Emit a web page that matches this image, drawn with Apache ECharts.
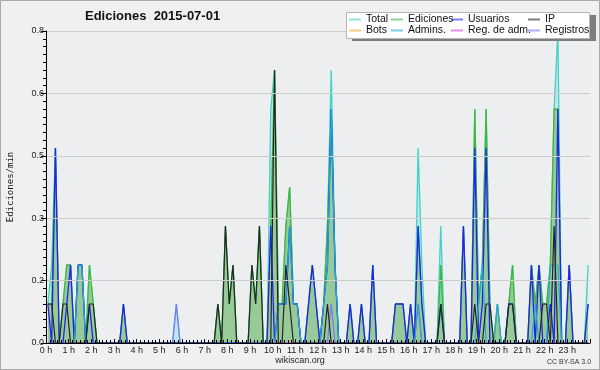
<!DOCTYPE html>
<html>
<head>
<meta charset="utf-8">
<script src="https://cdn.jsdelivr.net/npm/echarts@6/dist/echarts.min.js"></script>
<style>
html, body { margin: 0; padding: 0; background: #f0f0f0; }
#chart { width: 600px; height: 370px; }
</style>
</head>
<body>
<div id="chart"></div>
<script>
// Ediciones por minuto, intervalos de 10 min (2 horas por fila)
let total = [
	0.1,0.2,0.5,0,0.1,0.2,0.2,0,0.2,0.2,0,0.2,
	0.1,0,0,0,0,0,0,0,0.1,0,0,0,
	0,0,0,0,0,0,0,0,0,0,0.1,0,
	0,0,0,0,0,0,0,0,0,0.1,0,0.3,
	0.1,0.2,0,0,0,0,0.2,0.1,0.3,0,0,0.6,
	0.7,0.1,0.1,0.3,0.4,0.1,0.1,0,0,0.1,0.2,0.1,
	0,0.1,0.3,0.7,0.2,0,0,0,0.1,0,0,0.1,
	0,0,0.2,0,0,0,0,0,0.1,0.1,0.1,0,
	0.1,0,0.5,0.2,0,0,0,0,0.3,0,0,0,
	0,0,0.3,0,0,0.6,0.1,0.2,0.6,0.1,0,0.1,
	0,0,0.1,0.2,0,0,0,0,0.2,0.1,0.2,0.1,
	0.1,0.2,0.6,0.8,0,0,0.2,0,0,0,0,0.2
];
let ediciones = [
	0.1,0.1,0.5,0,0.1,0.2,0.2,0,0.2,0.2,0,0.2,
	0.1,0,0,0,0,0,0,0,0.1,0,0,0,
	0,0,0,0,0,0,0,0,0,0,0,0,
	0,0,0,0,0,0,0,0,0,0.1,0,0.3,
	0.1,0.2,0,0,0,0,0.2,0.1,0.3,0,0,0.3,
	0.7,0.1,0.1,0.3,0.4,0.1,0.1,0,0,0.1,0.2,0.1,
	0,0.1,0.3,0.6,0.2,0,0,0,0.1,0,0,0.1,
	0,0,0.2,0,0,0,0,0,0.1,0.1,0.1,0,
	0.1,0,0.3,0.1,0,0,0,0,0.2,0,0,0,
	0,0,0.3,0,0,0.6,0.1,0.2,0.6,0.1,0,0.1,
	0,0,0.1,0.2,0,0,0,0,0.2,0.1,0.2,0.1,
	0.1,0.2,0.6,0.6,0,0,0.2,0,0,0,0,0.1
];
let usuarios = [
	0.1,0,0.5,0,0,0.1,0.2,0,0.2,0.2,0,0.1,
	0,0,0,0,0,0,0,0,0.1,0,0,0,
	0,0,0,0,0,0,0,0,0,0,0,0,
	0,0,0,0,0,0,0,0,0,0,0,0,
	0,0,0,0,0,0,0,0,0,0,0,0.3,
	0,0.1,0.1,0.1,0.3,0.1,0.1,0,0,0.1,0.2,0.1,
	0,0.1,0.2,0.6,0.2,0,0,0,0.1,0,0,0.1,
	0,0,0.2,0,0,0,0,0,0.1,0.1,0.1,0,
	0.1,0,0.3,0.1,0,0,0,0,0.1,0,0,0,
	0,0,0.3,0,0,0.5,0,0.1,0.5,0,0,0,
	0,0,0.1,0.1,0,0,0,0,0.2,0,0.2,0,
	0,0.1,0,0.6,0,0,0.2,0,0,0,0,0.1
];
let ip = [
	0.1,0.1,0,0,0.1,0.1,0,0,0,0,0,0.1,
	0.1,0,0,0,0,0,0,0,0,0,0,0,
	0,0,0,0,0,0,0,0,0,0,0,0,
	0,0,0,0,0,0,0,0,0,0.1,0,0.3,
	0.1,0.2,0,0,0,0,0.2,0.1,0.3,0,0,0,
	0.7,0,0,0.2,0.1,0,0,0,0,0,0,0,
	0,0,0.1,0,0,0,0,0,0,0,0,0,
	0,0,0,0,0,0,0,0,0,0,0,0,
	0,0,0,0,0,0,0,0,0.1,0,0,0,
	0,0,0,0,0,0.1,0,0,0.1,0.1,0,0,
	0,0,0.1,0.1,0,0,0,0,0,0,0,0.1,
	0.1,0,0.3,0,0,0,0,0,0,0,0,0
];
let bots = [
	0,0,0,0,0,0,0,0,0,0,0,0,
	0,0,0,0,0,0,0,0,0,0,0,0,
	0,0,0,0,0,0,0,0,0,0,0,0,
	0,0,0,0,0,0,0,0,0,0,0,0,
	0,0,0,0,0,0,0,0,0,0,0,0,
	0,0,0,0,0,0,0,0,0,0,0,0,
	0,0,0,0,0,0,0,0,0,0,0,0,
	0,0,0,0,0,0,0,0,0,0,0,0,
	0,0,0,0,0,0,0,0,0,0,0,0,
	0,0,0,0,0,0,0,0,0,0,0,0,
	0,0,0,0,0,0,0,0,0,0,0,0,
	0,0,0,0,0,0,0,0,0,0,0,0
];
let admins = [
	0,0,0,0,0,0,0,0,0.2,0.2,0,0,
	0,0,0,0,0,0,0,0,0,0,0,0,
	0,0,0,0,0,0,0,0,0,0,0,0,
	0,0,0,0,0,0,0,0,0,0,0,0,
	0,0,0,0,0,0,0,0,0,0,0,0,
	0,0.1,0.1,0.1,0.3,0.1,0.1,0,0,0,0,0,
	0,0.1,0.2,0.6,0.2,0,0,0,0,0,0,0,
	0,0,0,0,0,0,0,0,0,0,0,0,
	0,0,0.1,0,0,0,0,0,0,0,0,0,
	0,0,0,0,0,0,0.1,0.2,0,0,0,0.1,
	0,0,0,0,0,0,0,0,0,0.1,0,0,
	0,0.2,0.2,0.2,0,0,0,0,0,0,0,0
];
let regAdm = [
	0,0,0,0,0,0,0,0,0,0,0,0,
	0,0,0,0,0,0,0,0,0,0,0,0,
	0,0,0,0,0,0,0,0,0,0,0,0,
	0,0,0,0,0,0,0,0,0,0,0,0,
	0,0,0,0,0,0,0,0,0,0,0,0,
	0,0,0,0,0,0,0,0,0,0,0,0,
	0,0,0,0,0,0,0,0,0,0,0,0,
	0,0,0,0,0,0,0,0,0,0,0,0,
	0,0,0.1,0,0,0,0,0,0,0,0,0,
	0,0,0,0,0,0,0,0,0,0,0,0,
	0,0,0,0,0,0,0,0,0,0,0,0,
	0,0,0,0,0,0,0,0,0,0,0,0
];
let registros = [
	0,0,0,0,0,0,0,0,0,0,0,0,
	0,0,0,0,0,0,0,0,0,0,0,0,
	0,0,0,0,0,0,0,0,0,0,0.1,0,
	0,0,0,0,0,0,0,0,0,0,0,0,
	0,0,0,0,0,0,0,0,0,0,0,0,
	0,0,0,0,0,0,0,0,0,0,0,0,
	0,0,0,0.1,0,0,0,0,0,0,0,0,
	0,0,0,0,0,0,0,0,0,0,0,0,
	0,0,0,0,0,0,0,0,0,0,0,0,
	0,0,0,0,0,0,0,0,0,0,0,0,
	0,0,0,0,0,0,0,0,0,0,0,0,
	0,0,0,0,0,0,0,0,0,0,0,0
];

// intervalos de 10 minutos del dia
let bins = [];
for (let h = 0; h < 24; h++) {
	for (let m = 0; m < 60; m += 10) {
		bins.push((h < 10 ? '0' : '') + h + ':' + (m < 10 ? '0' : '') + m);
	}
}

const font = 'Liberation Sans';

function lineSeries(name, data, color, width, z, fill) {
	let s = {
		name: name,
		type: 'line',
		data: data,
		xAxisIndex: 0,
		showSymbol: false,
		symbol: 'none',
		z: z,
		color: color,
		itemStyle: { color: color },
		lineStyle: { color: color, width: width },
		emphasis: { disabled: true }
	};
	if (fill) {
		s.areaStyle = { color: fill, opacity: 1 };
	}
	return s;
}

//una columna de la leyenda (dos filas)
function legendCol(left, names) {
	return {
		orient: 'vertical',
		left: left,
		top: 14,
		padding: 0,
		itemGap: 0,
		itemWidth: 12,
		itemHeight: 2,
		icon: 'rect',
		selectedMode: false,
		z: 20,
		itemStyle: { opacity: 0.6 },
		data: names,
		textStyle: { fontFamily: font, fontSize: 10.5, lineHeight: 10, color: '#111' }
	};
}

let chart = echarts.init(document.getElementById('chart'));
let option = {
	animation: false,
	backgroundColor: '#f0f0f0',
	title: {
		text: 'Ediciones  2015-07-01',
		left: 85,
		top: 10,
		padding: 0,
		textStyle: { fontFamily: font, fontWeight: 'bold', fontSize: 13, color: '#111' }
	},
	legend: [
		legendCol(349, ['Total', 'Bots']),
		legendCol(391, ['Ediciones', 'Admins.']),
		legendCol(451, ['Usuarios', 'Reg. de adm.']),
		legendCol(528, ['IP', 'Registros'])
	],
	grid: {
		left: 46, right: 10, top: 31, height: 312,
		outerBoundsMode: 'none',
		containLabel: false,
		show: true, backgroundColor: '#eceef0', borderWidth: 0
	},
	xAxis: [{
		type: 'category',
		data: bins,
		boundaryGap: true,
		show: false
	}, {
		type: 'value',
		min: 0, max: 24, interval: 1,
		position: 'bottom',
		z: 10,
		axisLine: { lineStyle: { color: '#000', width: 1 } },
		axisTick: { inside: true, length: 4, lineStyle: { color: '#000' } },
		minorTick: { show: true, splitNumber: 6, length: 3, lineStyle: { color: '#000' } },
		axisLabel: {
			formatter: function (v) { return v + ' h'; },
			fontFamily: font, fontSize: 9, color: '#222', margin: 3,
			showMaxLabel: false
		},
		splitLine: { show: false }
	}],
	yAxis: {
		type: 'value',
		min: 0, max: 0.8, interval: 0.16,
		name: 'Ediciones/min',
		nameLocation: 'middle',
		nameRotate: 90,
		nameGap: 31,
		nameTextStyle: { fontFamily: 'DejaVu Sans Mono', fontSize: 9, color: '#111' },
		z: 10,
		axisLine: { show: true, lineStyle: { color: '#000', width: 1 } },
		axisTick: { show: true, length: 5, lineStyle: { color: '#000' } },
		minorTick: { show: true, splitNumber: 8, length: 3, lineStyle: { color: '#000' } },
		axisLabel: {
			formatter: function (v) { return v.toFixed(1); },
			fontFamily: font, fontSize: 9, color: '#222', margin: 2
		},
		splitLine: { show: true, lineStyle: { color: '#cccccc', width: 1 } }
	},
	series: [
		lineSeries('Total', total, '#3fd3c6', 1.3, 2, '#c6e2ec'),
		lineSeries('Ediciones', ediciones, '#3cb83c', 1.3, 3, '#98c998'),
		lineSeries('Bots', bots, '#ffa033', 1.2, 4),
		lineSeries('Registros', registros, '#7777ff', 1.2, 5),
		lineSeries('Reg. de adm.', regAdm, '#cc44dd', 1.2, 6),
		lineSeries('Usuarios', usuarios, '#2222ee', 1.3, 7),
		lineSeries('Admins.', admins, '#22a8d8', 1.2, 8),
		lineSeries('IP', ip, '#252525', 1.2, 9)
	],
	graphic: [
		{ type: 'rect', z: 15, shape: { x: 352, y: 15, width: 244, height: 26 }, style: { fill: '#7d7d7d' } },
		{ type: 'rect', z: 16, shape: { x: 346.5, y: 12.5, width: 243, height: 26 }, style: { fill: '#ffffff', stroke: '#b5b5b5', lineWidth: 1 } },
		{ type: 'text', z: 16, x: 300, y: 361, style: { text: 'wikiscan.org', font: '9px "Liberation Sans"', fill: '#222', align: 'center', verticalAlign: 'middle' } },
		{ type: 'text', z: 16, x: 569, y: 362, style: { text: 'CC BY-SA 3.0', font: '7px "Liberation Sans"', fill: '#333', align: 'center', verticalAlign: 'middle' } },
		{ type: 'rect', z: 16, shape: { x: 0.5, y: 0.5, width: 599, height: 369 }, style: { fill: 'none', stroke: '#a9a9a9', lineWidth: 1 } }
	]
};
chart.setOption(option);
</script>
</body>
</html>
